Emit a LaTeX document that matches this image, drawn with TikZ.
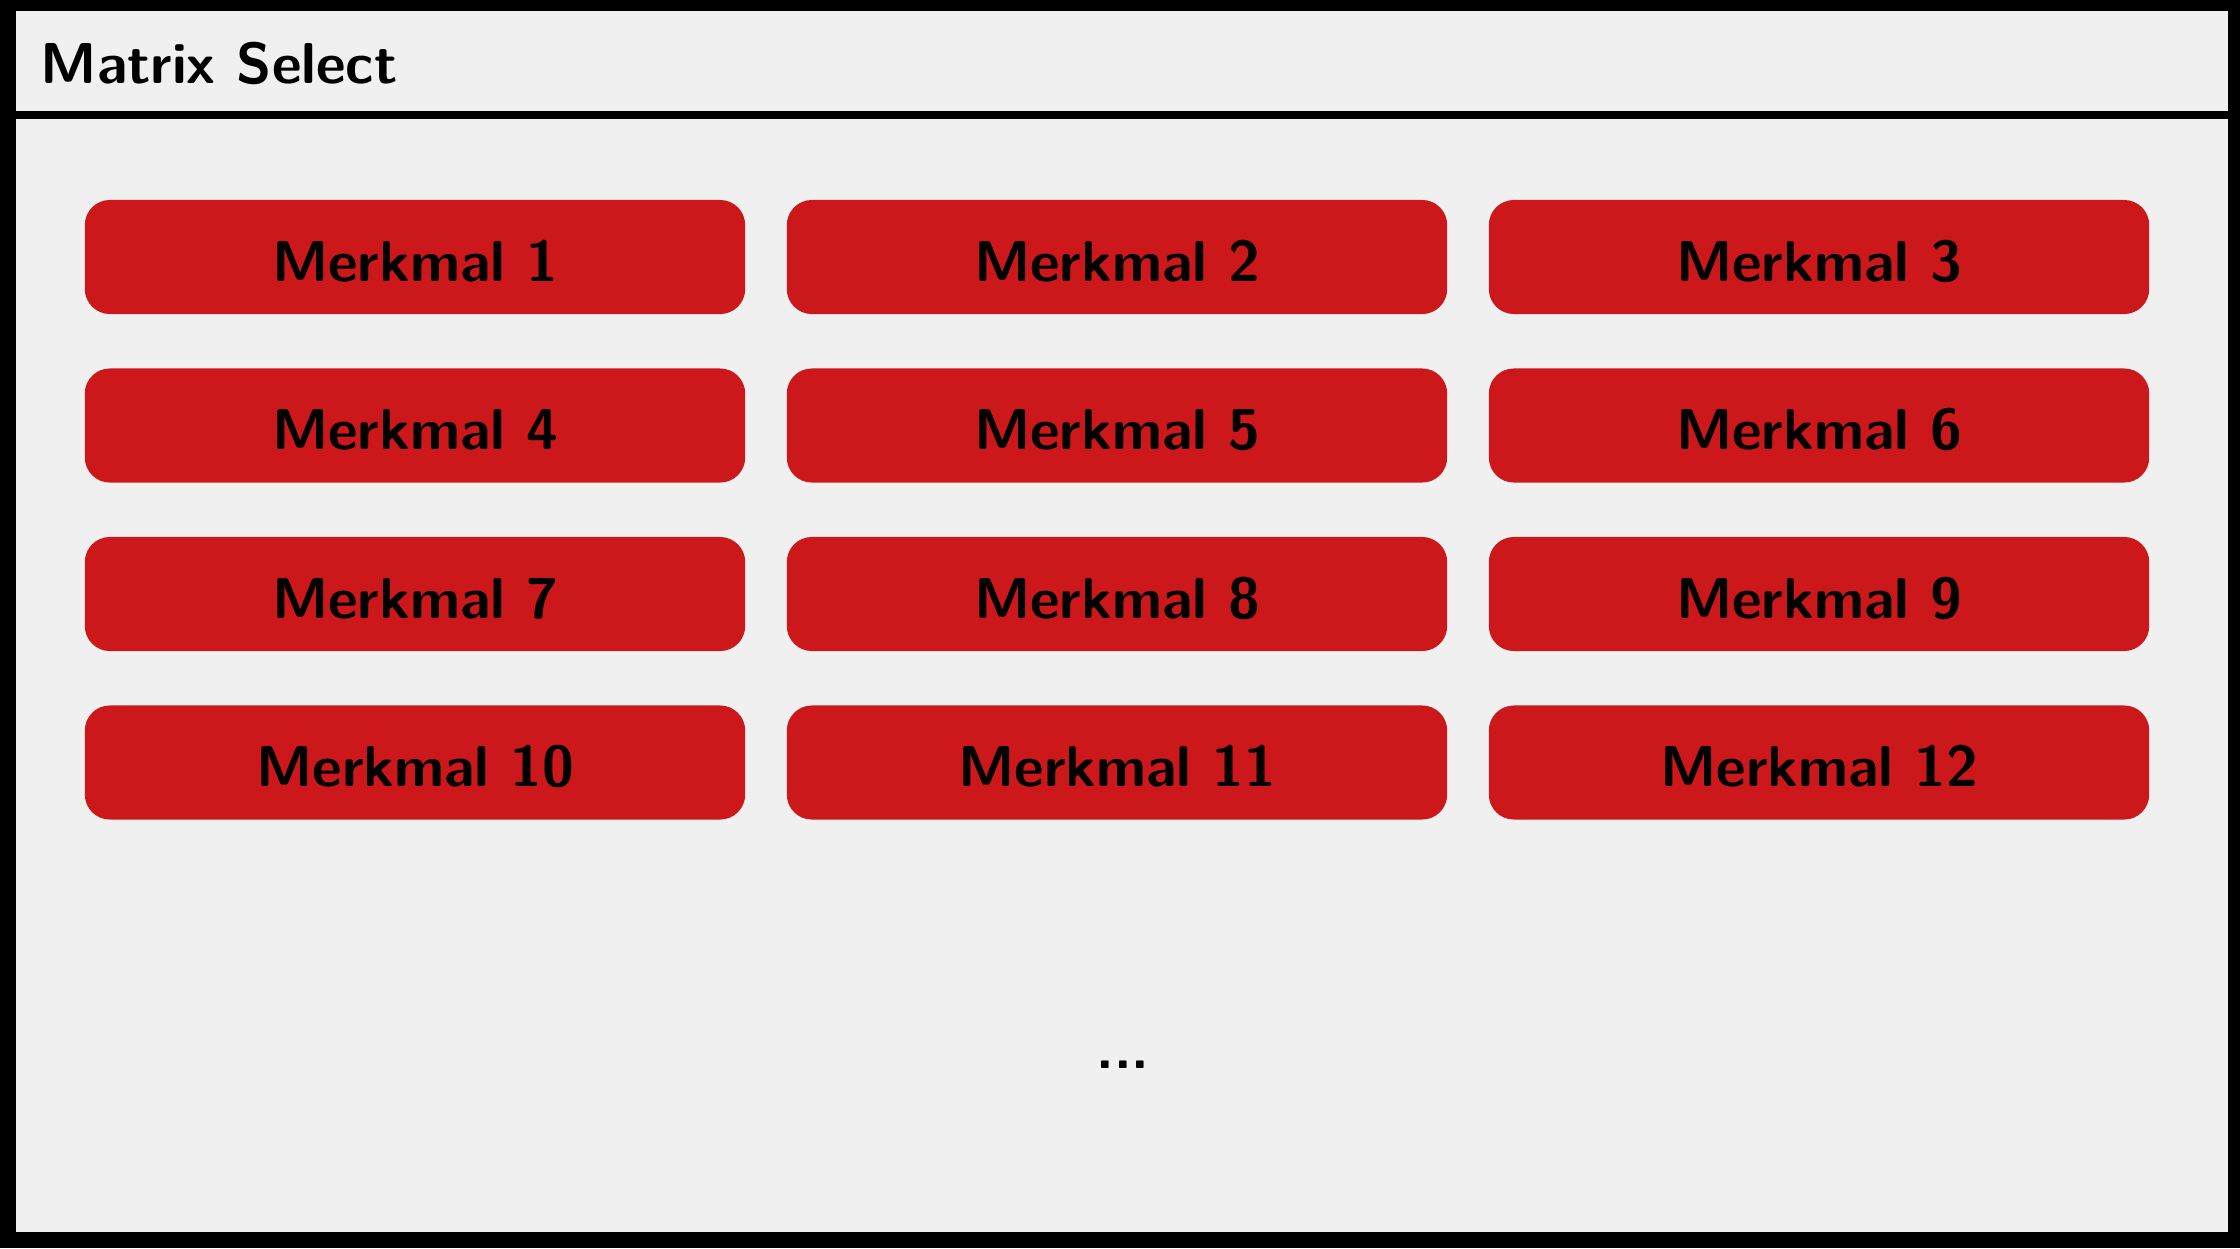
\documentclass[tikz,border=0pt]{standalone}
\definecolor{btnred}{RGB}{204,24,26}
\definecolor{panelgray}{RGB}{240,240,240}
\begin{document}
\begin{tikzpicture}[x=0.01cm,y=-0.01cm,
  btn/.style={fill=btnred, rounded corners=0.25cm, minimum width=6.6cm,
    minimum height=1.14cm, inner sep=0pt, text height=0.6cm, text depth=0.12cm,
    font=\fontsize{16.4}{19}\selectfont\sffamily\bfseries, anchor=center},
  titlefont/.style={font=\fontsize{16.4}{19}\selectfont\sffamily\bfseries},
  dotsfont/.style={font=\fontsize{16.4}{19}\selectfont\sffamily\bfseries}]
\useasboundingbox (0,0) rectangle (2240,1248);
\fill[black] (0,0) rectangle (2240,1248);
\fill[panelgray] (16,11) rectangle (2228,111);
\fill[panelgray] (16,119) rectangle (2228,1232);
\node[titlefont, anchor=base west, inner sep=0pt] (title) at (40,83) {Matrix Select};
\foreach \r in {0,...,3}{
  \foreach \c in {0,1,2}{
    \pgfmathtruncatemacro\n{3*\r+\c+1}
    \node[btn] (m\n) at ({415+702*\c},{257+168.5*\r}) {Merkmal \n};
  }
}
\node[dotsfont, anchor=base, inner sep=0pt] (more) at (1123,1068) {...};
\end{tikzpicture}
\end{document}
